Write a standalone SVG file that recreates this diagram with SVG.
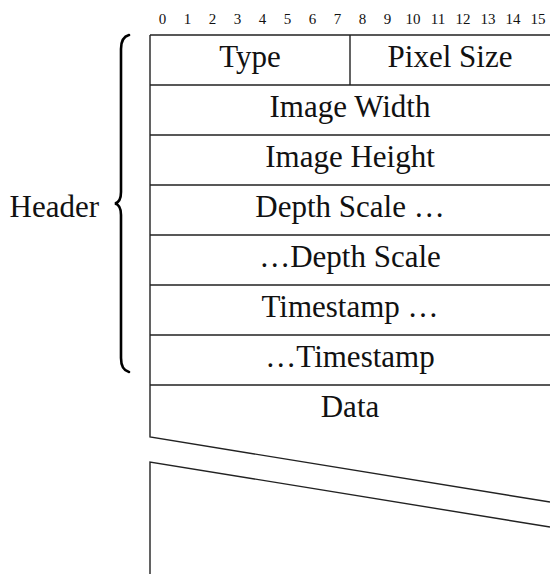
<svg xmlns="http://www.w3.org/2000/svg" width="550" height="574" viewBox="0 0 550 574">
  <style>
    .lbl { font-family: "Liberation Serif", "DejaVu Serif", serif; font-size: 31px; fill: #111; text-anchor: middle; }
    .bit { font-family: "Liberation Serif", "DejaVu Serif", serif; font-size: 15px; fill: #111; text-anchor: middle; }
    .rule { stroke: #222; stroke-width: 1.4; fill: none; }
    .brace { stroke: #000; stroke-width: 2.6; fill: none; stroke-linecap: round; }
  </style>
  <rect width="550" height="574" fill="#fff"/>

  <!-- bit numbers -->
  <g id="bits">
    <text class="bit" x="162.5" y="24">0</text>
    <text class="bit" x="187.5" y="24">1</text>
    <text class="bit" x="212.5" y="24">2</text>
    <text class="bit" x="237.5" y="24">3</text>
    <text class="bit" x="262.5" y="24">4</text>
    <text class="bit" x="287.5" y="24">5</text>
    <text class="bit" x="312.5" y="24">6</text>
    <text class="bit" x="337.5" y="24">7</text>
    <text class="bit" x="362.5" y="24">8</text>
    <text class="bit" x="387.5" y="24">9</text>
    <text class="bit" x="413" y="24">10</text>
    <text class="bit" x="438" y="24">11</text>
    <text class="bit" x="463" y="24">12</text>
    <text class="bit" x="488" y="24">13</text>
    <text class="bit" x="513" y="24">14</text>
    <text class="bit" x="538" y="24">15</text>
  </g>

  <!-- packet fields -->
  <g id="type">
    <text class="lbl" x="250" y="67">Type</text>
  </g>
  <g id="pixel-size">
    <text class="lbl" x="450" y="67">Pixel Size</text>
  </g>
  <g id="image-width">
    <text class="lbl" x="350" y="117">Image Width</text>
  </g>
  <g id="image-height">
    <text class="lbl" x="350" y="167">Image Height</text>
  </g>
  <g id="depth-scale-1">
    <text class="lbl" x="350" y="217">Depth Scale …</text>
  </g>
  <g id="depth-scale-2">
    <text class="lbl" x="350" y="267">…Depth Scale</text>
  </g>
  <g id="timestamp-1">
    <text class="lbl" x="350" y="317">Timestamp …</text>
  </g>
  <g id="timestamp-2">
    <text class="lbl" x="350" y="367">…Timestamp</text>
  </g>
  <g id="data">
    <text class="lbl" x="350" y="417">Data</text>
  </g>

  <!-- table rules -->
  <g id="rules">
    <path class="rule" d="M150,35 H550 M150,85 H550 M150,135 H550 M150,185 H550 M150,235 H550 M150,285 H550 M150,335 H550 M150,385 H550"/>
    <path class="rule" d="M350,35 V85"/>
    <path class="rule" d="M150,35 V437 L550,502"/>
    <path class="rule" d="M150,574 V462 L550,527"/>
  </g>

  <!-- header brace -->
  <g id="header">
    <path class="brace" d="M129,35 Q121,37 121,49 L121,192 Q121,202 115,203.5 Q121,205 121,215 L121,358 Q121,370 129,372"/>
    <text class="lbl" x="99" y="217" style="text-anchor:end">Header</text>
  </g>
</svg>
